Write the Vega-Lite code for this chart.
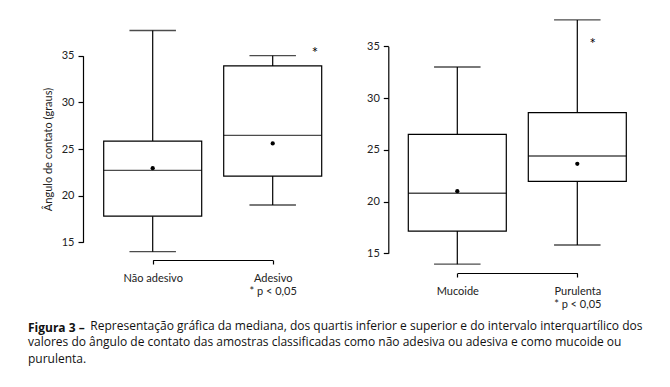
{
  "$schema": "https://vega.github.io/schema/vega-lite/v6.json",
  "width": 670,
  "height": 310,
  "autosize": "none",
  "padding": {"left": 0, "top": 0, "right": 0, "bottom": 77},
  "background": "white",
  "config": {
    "view": {"stroke": null},
    "font": "Lato",
    "axis": {
      "domainColor": "#000", "tickColor": "#000", "labelColor": "#222", "titleColor": "#222",
      "labelFont": "Lato", "titleFont": "Lato", "labelFontSize": 11, "titleFontSize": 11,
      "titleFontWeight": "normal", "grid": false, "domainWidth": 1.2, "tickWidth": 1.2
    }
  },
  "title": {
    "text": "Figura 3 –",
    "subtitle": [
      "\u200b\u00a0\u00a0\u00a0\u00a0\u00a0\u00a0\u00a0\u00a0\u00a0\u00a0\u00a0\u00a0\u00a0\u00a0\u00a0\u00a0\u00a0\u00a0\u00a0\u00a0Representação gráfica da mediana, dos quartis inferior e superior e do intervalo interquartílico dos",
      "valores do ângulo de contato das amostras classificadas como não adesiva ou adesiva e como mucoide ou",
      "purulenta."
    ],
    "orient": "bottom", "anchor": "start", "frame": "group", "dx": 28, "offset": 13,
    "font": "Open Sans", "fontSize": 12, "fontWeight": "bold", "color": "#111",
    "subtitleFont": "Open Sans", "subtitleFontSize": 12, "subtitleColor": "#111",
    "subtitleLineHeight": 16.8, "subtitlePadding": -14.5
  },
  "datasets": {
    "a": [
      {"g": "Não adesivo", "min": 14.0, "q1": 17.8, "median": 22.7, "q3": 25.85, "max": 37.7, "mean": 22.95},
      {"g": "Adesivo", "min": 19.0, "q1": 22.1, "median": 26.45, "q3": 33.9, "max": 35.0, "mean": 25.6, "star": "*", "sy": 34.7}
    ],
    "b": [
      {"g": "Mucoide", "min": 13.95, "q1": 17.15, "median": 20.8, "q3": 26.5, "max": 33.0, "mean": 21.0},
      {"g": "Purulenta", "min": 15.8, "q1": 21.95, "median": 24.4, "q3": 28.6, "max": 37.55, "mean": 23.65, "star": "*", "sy": 34.75}
    ]
  },
  "layer": [
    {
      "data": {"name": "a"},
      "layer": [
        {
          "mark": {"type": "rule", "color": "#000", "strokeWidth": 1.2},
          "encoding": {
            "x": {"field": "g", "type": "nominal", "title": null,
              "scale": {"type": "point", "domain": ["Não adesivo", "Adesivo"], "range": [152.7, 272.7], "padding": 0},
              "axis": {"orient": "bottom", "offset": -50, "labelAngle": 0, "tickSize": 4, "labelPadding": 8, "labelLineHeight": 13,
                "labelExpr": "datum.value == 'Adesivo' ? ['Adesivo', '* p < 0,05'] : datum.value"}},
            "y": {"field": "min", "type": "quantitative", "title": "Ângulo de contato (graus)",
              "scale": {"domain": [15, 35], "range": [242.3, 55.7], "nice": false, "zero": false},
              "axis": {"orient": "left", "offset": -83, "values": [15, 20, 25, 30, 35], "tickSize": 5, "labelPadding": 4, "titlePadding": 8}},
            "y2": {"field": "max"}
          }
        },
        {
          "mark": {"type": "bar", "width": 98, "fill": "white", "stroke": "#000", "strokeWidth": 1.2},
          "encoding": {
            "x": {"field": "g", "type": "nominal", "title": null},
            "y": {"field": "q1", "type": "quantitative", "title": "Ângulo de contato (graus)"},
            "y2": {"field": "q3"}
          }
        },
        {
          "mark": {"type": "tick", "size": 98, "thickness": 1.3, "color": "#000"},
          "encoding": {
            "x": {"field": "g", "type": "nominal", "title": null},
            "y": {"field": "median", "type": "quantitative", "title": "Ângulo de contato (graus)"}
          }
        },
        {
          "mark": {"type": "tick", "size": 46.5, "thickness": 1.3, "color": "#000"},
          "encoding": {
            "x": {"field": "g", "type": "nominal", "title": null},
            "y": {"field": "min", "type": "quantitative", "title": "Ângulo de contato (graus)"}
          }
        },
        {
          "mark": {"type": "tick", "size": 46.5, "thickness": 1.3, "color": "#000"},
          "encoding": {
            "x": {"field": "g", "type": "nominal", "title": null},
            "y": {"field": "max", "type": "quantitative", "title": "Ângulo de contato (graus)"}
          }
        },
        {
          "mark": {"type": "point", "filled": true, "size": 18, "color": "#000", "opacity": 1},
          "encoding": {
            "x": {"field": "g", "type": "nominal", "title": null},
            "y": {"field": "mean", "type": "quantitative", "title": "Ângulo de contato (graus)"}
          }
        },
        {
          "transform": [{"filter": "isValid(datum.sy)"}],
          "mark": {"type": "text", "dx": 42.3, "fontSize": 15, "color": "#000", "align": "center", "baseline": "alphabetic"},
          "encoding": {
            "x": {"field": "g", "type": "nominal", "title": null},
            "y": {"field": "sy", "type": "quantitative", "title": "Ângulo de contato (graus)"},
            "text": {"field": "star"}
          }
        }
      ]
    },
    {
      "data": {"name": "b"},
      "layer": [
        {
          "mark": {"type": "rule", "color": "#000", "strokeWidth": 1.2},
          "encoding": {
            "x": {"field": "g", "type": "nominal", "title": null,
              "scale": {"type": "point", "domain": ["Mucoide", "Purulenta"], "range": [457.3, 577.3], "padding": 0},
              "axis": {"orient": "bottom", "offset": -37, "labelAngle": 0, "tickSize": 4, "labelPadding": 8, "labelLineHeight": 13,
                "labelExpr": "datum.value == 'Purulenta' ? ['Purulenta', '* p < 0,05'] : datum.value"}},
            "y": {"field": "min", "type": "quantitative", "title": null,
              "scale": {"domain": [15, 35], "range": [253.3, 46.3], "nice": false, "zero": false},
              "axis": {"orient": "left", "offset": -388.3, "values": [15, 20, 25, 30, 35], "tickSize": 5, "labelPadding": 4}},
            "y2": {"field": "max"}
          }
        },
        {
          "mark": {"type": "bar", "width": 98, "fill": "white", "stroke": "#000", "strokeWidth": 1.2},
          "encoding": {
            "x": {"field": "g", "type": "nominal", "title": null},
            "y": {"field": "q1", "type": "quantitative", "title": null},
            "y2": {"field": "q3"}
          }
        },
        {
          "mark": {"type": "tick", "size": 98, "thickness": 1.3, "color": "#000"},
          "encoding": {
            "x": {"field": "g", "type": "nominal", "title": null},
            "y": {"field": "median", "type": "quantitative", "title": null}
          }
        },
        {
          "mark": {"type": "tick", "size": 46.5, "thickness": 1.3, "color": "#000"},
          "encoding": {
            "x": {"field": "g", "type": "nominal", "title": null},
            "y": {"field": "min", "type": "quantitative", "title": null}
          }
        },
        {
          "mark": {"type": "tick", "size": 46.5, "thickness": 1.3, "color": "#000"},
          "encoding": {
            "x": {"field": "g", "type": "nominal", "title": null},
            "y": {"field": "max", "type": "quantitative", "title": null}
          }
        },
        {
          "mark": {"type": "point", "filled": true, "size": 18, "color": "#000", "opacity": 1},
          "encoding": {
            "x": {"field": "g", "type": "nominal", "title": null},
            "y": {"field": "mean", "type": "quantitative", "title": null}
          }
        },
        {
          "transform": [{"filter": "isValid(datum.sy)"}],
          "mark": {"type": "text", "dx": 15.4, "fontSize": 15, "color": "#000", "align": "center", "baseline": "alphabetic"},
          "encoding": {
            "x": {"field": "g", "type": "nominal", "title": null},
            "y": {"field": "sy", "type": "quantitative", "title": null},
            "text": {"field": "star"}
          }
        }
      ]
    }
  ],
  "resolve": {"scale": {"x": "independent", "y": "independent"}}
}
